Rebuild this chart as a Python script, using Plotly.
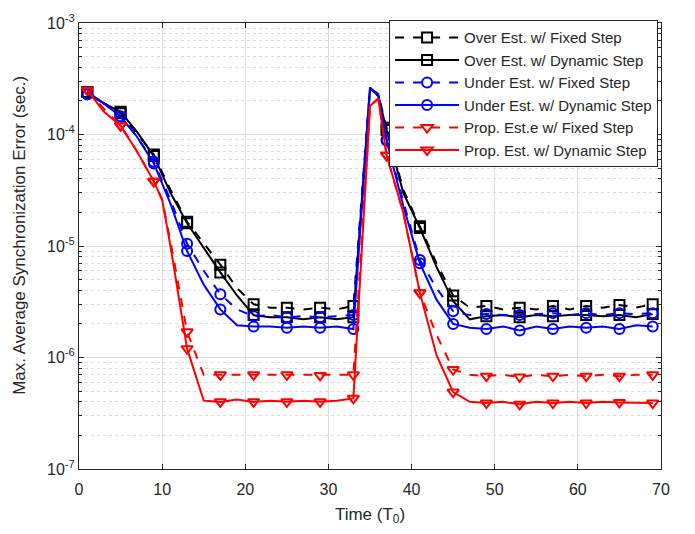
import plotly.graph_objects as go

# Time axis samples (units of T0)
time = [1, 3, 5, 7, 9, 10, 11, 13, 15, 17, 19, 21, 23, 25, 27, 29, 31, 33,
        35, 36, 37, 39, 41, 43, 45, 47, 49, 51, 53, 55, 57, 59, 61, 63, 65, 67, 69]

# Max. average synchronization error (sec.)
over_fixed = [2.4e-4, 1.9e-4, 1.55e-4, 1.0e-4, 6.6e-5, 4.6e-5, 3.2e-5, 1.65e-5, 1.05e-5,
              6.8e-6, 4.2e-6, 3.0e-6, 2.8e-6, 2.8e-6, 2.7e-6, 2.8e-6, 2.7e-6, 2.9e-6,
              2.6e-4, 2.3e-4, 1.15e-4, 3.2e-5, 1.5e-5, 7.0e-6, 3.6e-6, 2.8e-6, 2.9e-6,
              2.7e-6, 2.8e-6, 2.7e-6, 2.9e-6, 2.7e-6, 2.9e-6, 2.8e-6, 2.95e-6, 2.8e-6, 3.0e-6]
over_dynamic = [2.4e-4, 1.9e-4, 1.6e-4, 1.05e-4, 6.4e-5, 4.4e-5, 3.0e-5, 1.6e-5, 9.5e-6,
                5.8e-6, 3.6e-6, 2.4e-6, 2.3e-6, 2.3e-6, 2.2e-6, 2.3e-6, 2.2e-6, 2.3e-6,
                2.65e-4, 2.2e-4, 1.1e-4, 3.0e-5, 1.45e-5, 6.5e-6, 3.2e-6, 2.2e-6, 2.35e-6,
                2.4e-6, 2.3e-6, 2.4e-6, 2.35e-6, 2.4e-6, 2.4e-6, 2.35e-6, 2.4e-6, 2.3e-6, 2.45e-6]
under_fixed = [2.3e-4, 1.9e-4, 1.45e-4, 9.5e-5, 5.7e-5, 3.9e-5, 2.6e-5, 1.05e-5, 6.0e-6,
               3.7e-6, 2.7e-6, 2.35e-6, 2.4e-6, 2.3e-6, 2.35e-6, 2.3e-6, 2.35e-6, 2.4e-6,
               2.55e-4, 2.3e-4, 9.0e-5, 2.5e-5, 7.5e-6, 4.2e-6, 2.6e-6, 2.4e-6, 2.45e-6,
               2.4e-6, 2.4e-6, 2.45e-6, 2.5e-6, 2.4e-6, 2.5e-6, 2.4e-6, 2.5e-6, 2.45e-6, 2.5e-6]
under_dynamic = [2.3e-4, 1.9e-4, 1.45e-4, 9.5e-5, 5.5e-5, 3.7e-5, 2.4e-5, 9.0e-6, 4.5e-6,
                 2.7e-6, 1.95e-6, 1.9e-6, 1.9e-6, 1.85e-6, 1.9e-6, 1.85e-6, 1.9e-6, 1.8e-6,
                 2.55e-4, 2.3e-4, 8.8e-5, 2.3e-5, 7.0e-6, 3.3e-6, 2.0e-6, 1.85e-6, 1.8e-6,
                 1.9e-6, 1.75e-6, 1.9e-6, 1.8e-6, 1.9e-6, 1.85e-6, 1.9e-6, 1.8e-6, 1.95e-6, 1.9e-6]
prop_fixed = [2.5e-4, 1.7e-4, 1.2e-4, 7.0e-5, 3.8e-5, 2.6e-5, 1.1e-5, 1.7e-6, 7.0e-7,
              7.0e-7, 6.9e-7, 7.0e-7, 6.9e-7, 7.0e-7, 6.9e-7, 6.9e-7, 7.0e-7, 7.0e-7,
              1.8e-4, 2.1e-4, 6.5e-5, 2.0e-5, 3.8e-6, 1.6e-6, 7.8e-7, 7.0e-7, 6.8e-7,
              7.0e-7, 6.7e-7, 7.0e-7, 6.8e-7, 7.0e-7, 6.8e-7, 7.0e-7, 6.8e-7, 7.0e-7, 7.0e-7]
prop_dynamic = [2.5e-4, 1.6e-4, 1.2e-4, 7.0e-5, 3.8e-5, 2.6e-5, 1.0e-5, 1.2e-6, 4.1e-7,
                4.0e-7, 4.2e-7, 4.0e-7, 4.1e-7, 4.0e-7, 4.1e-7, 4.0e-7, 4.1e-7, 4.3e-7,
                1.8e-4, 2.1e-4, 6.5e-5, 2.0e-5, 3.8e-6, 1.05e-6, 4.9e-7, 4.0e-7, 3.9e-7,
                4.0e-7, 3.8e-7, 4.0e-7, 3.9e-7, 4.0e-7, 3.9e-7, 4.0e-7, 3.95e-7, 3.9e-7, 3.9e-7]

series = [
    ("Over Est. w/ Fixed Step", over_fixed, "#000000", "dash", "square-open"),
    ("Over Est. w/ Dynamic Step", over_dynamic, "#000000", "solid", "square-open"),
    ("Under Est. w/ Fixed Step", under_fixed, "#0000FF", "dash", "circle-open"),
    ("Under Est. w/ Dynamic Step", under_dynamic, "#0000FF", "solid", "circle-open"),
    ("Prop. Est.e w/ Fixed Step", prop_fixed, "#FF0000", "dash", "triangle-down-open"),
    ("Prop. Est. w/ Dynamic Step", prop_dynamic, "#FF0000", "solid", "triangle-down-open"),
]

# markers every 4 T0 starting at t = 1
marker_idx = [i for i, t in enumerate(time) if (t - 1) % 4 == 0]

FONT = "Liberation Sans, Arial, sans-serif"
fig = go.Figure()
for name, vals, color, dash, symbol in series:
    fig.add_trace(go.Scatter(
        x=time, y=vals, mode="lines", legendgroup=name, showlegend=False,
        line=dict(color=color, width=2, dash=dash)))
    fig.add_trace(go.Scatter(
        x=[time[i] for i in marker_idx], y=[vals[i] for i in marker_idx],
        mode="markers", legendgroup=name, showlegend=False,
        marker=dict(symbol=symbol, size=10, color=color,
                    line=dict(color=color, width=2))))
    # legend entry combining line style and marker
    fig.add_trace(go.Scatter(
        x=[None], y=[None], mode="lines+markers", name=name, legendgroup=name,
        line=dict(color=color, width=2, dash=dash),
        marker=dict(symbol=symbol, size=10, color=color,
                    line=dict(color=color, width=2))))

minor_vals = [k * 10.0 ** e for e in range(-7, -3) for k in range(2, 10)]
decades = [10.0 ** e for e in range(-7, -2)]

fig.update_layout(
    width=695, height=534,
    margin=dict(l=79, r=34, t=14, b=65),
    paper_bgcolor="white", plot_bgcolor="white",
    font=dict(family=FONT, size=16, color="#262626"),
    legend=dict(x=0.995, y=1.006, xanchor="right", yanchor="top",
                bgcolor="white", bordercolor="#262626", borderwidth=1,
                font=dict(size=15, color="#262626"),
                itemwidth=64, tracegroupgap=0),
    showlegend=True,
    annotations=[dict(
        text="Max. Average Synchronization Error (sec.)",
        xref="paper", yref="paper", x=-0.1014, y=0.525,
        xanchor="center", yanchor="middle", textangle=-90,
        showarrow=False, font=dict(size=17, color="#262626"))],
)
fig.update_xaxes(
    range=[0, 70], tickmode="array", tickvals=list(range(0, 71, 10)),
    showgrid=True, gridcolor="#dcdcdc", gridwidth=1,
    showline=True, linecolor="#262626", linewidth=1, mirror="ticks",
    ticks="inside", ticklen=5, tickcolor="#262626", ticklabelstandoff=6,
    zeroline=False,
    title=dict(text="Time (T<sub>0</sub>)", font=dict(size=17), standoff=10),
)
fig.update_yaxes(
    type="log", range=[-7, -3], tickmode="array", tickvals=decades,
    ticktext=[f"10<sup>{e}</sup>" for e in range(-7, -2)],
    showgrid=True, gridcolor="#dcdcdc", gridwidth=1,
    showline=True, linecolor="#262626", linewidth=1, mirror="ticks",
    ticks="inside", ticklen=5, tickcolor="#262626",
    minor=dict(tickmode="array", tickvals=minor_vals, ticks="inside", ticklen=3,
               tickcolor="#262626", showgrid=True, gridcolor="#dcdcdc",
               griddash="dot", gridwidth=1),
    zeroline=False,
)

fig.write_html("out.html")
